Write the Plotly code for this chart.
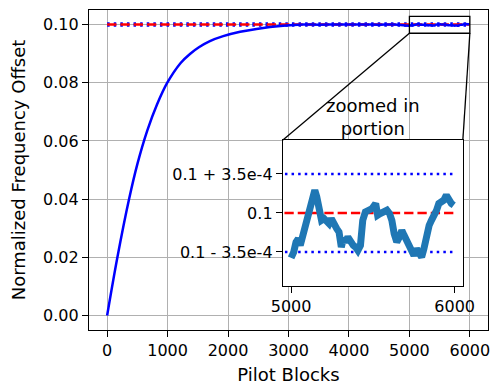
import plotly.graph_objects as go

# ---- data ----
conv_blocks = [0, 170, 363, 500, 665, 825, 995, 1216, 1370, 1518, 1700, 1920, 2200,
               2470, 2910, 3240, 3500, 3750, 4000, 4250, 4500, 4750]
conv_values = [0.0, 0.020, 0.040, 0.0520, 0.0636, 0.0725, 0.0800, 0.0868, 0.0899,
               0.0922, 0.0943, 0.0960, 0.0975, 0.0985, 0.0996, 0.1000, 0.09996,
               0.10002, 0.09998, 0.10003, 0.09997, 0.10001]

# zoomed portion: blocks and offset from 0.1 in units of 1e-4
zoom_blocks = [5000, 5016, 5030, 5044, 5056, 5070, 5085, 5101, 5117, 5131, 5145, 5157,
               5172, 5186, 5202, 5218, 5232, 5246, 5262, 5279, 5293, 5307, 5319, 5333,
               5347, 5363, 5380, 5394, 5408, 5424, 5438, 5454, 5475, 5495, 5517, 5529,
               5545, 5565, 5586, 5602, 5616, 5630, 5646, 5662, 5677, 5691, 5707, 5723,
               5737, 5751, 5767, 5784, 5798, 5812, 5828, 5844, 5858, 5872, 5889, 5903,
               5919, 5933, 5949, 5965, 5980, 5994]
zoom_offsets_e4 = [-4.03, -3.51, -2.61, -2.31, -2.91, -2.16, -1.11, -0.36, 0.24, 0.99,
                   2.04, 1.44, 0.09, -0.66, -0.51, -0.66, -0.96, -0.51, -1.11, -1.41,
                   -1.71, -3.06, -2.31, -2.61, -2.16, -2.61, -2.91, -3.06, -3.36, -2.91,
                   -0.66, 0.09, 0.24, 0.39, 0.84, -0.21, -0.06, 0.09, 0.24, -0.06, -0.66,
                   -1.86, -2.61, -2.16, -1.56, -2.01, -2.46, -2.91, -3.51, -3.81, -3.21,
                   -3.51, -3.96, -3.21, -2.01, -1.11, -0.66, -0.36, 0.24, 0.84, 0.99,
                   1.14, 1.59, 0.99, 0.84, 0.69]

target = 0.1
band = 3.5e-4
x_ticks = [0, 1000, 2000, 3000, 4000, 5000, 6000]
y_ticks = [0.0, 0.02, 0.04, 0.06, 0.08, 0.10]
inset_x_ticks = [5000, 6000]
inset_y_labels = ["0.1 - 3.5e-4", "0.1", "0.1 + 3.5e-4"]
zoom_box_y = [0.097, 0.1028]

zoom_values = [target + v * 1e-4 for v in zoom_offsets_e4]
all_blocks = conv_blocks + zoom_blocks
all_values = conv_values + zoom_values

FONT = "DejaVu Sans"
main_xr = [-300, 6300]
main_yr = [-0.005, 0.105]
ins_xd = [0.486, 0.937]
ins_yd = [0.1375, 0.594]
ins_xr = [4950, 6050]
ins_yr = [target - 6.55e-4, target + 6.55e-4]

fig = go.Figure()
line_x = [0, 6000]
for xa, ya in (("x", "y"), ("x2", "y2")):
    fig.add_trace(go.Scatter(x=line_x, y=[target + band] * 2, mode="lines", xaxis=xa, yaxis=ya,
                             line=dict(color="#0000ff", width=2.5, dash="2.5px,4.1px"), showlegend=False))
    fig.add_trace(go.Scatter(x=line_x, y=[target - band] * 2, mode="lines", xaxis=xa, yaxis=ya,
                             line=dict(color="#0000ff", width=2.5, dash="2.5px,4.1px"), showlegend=False))
    fig.add_trace(go.Scatter(x=line_x, y=[target] * 2, mode="lines", xaxis=xa, yaxis=ya,
                             line=dict(color="#ff0000", width=2.5, dash="9.3px,4px"), showlegend=False))

fig.add_trace(go.Scatter(x=all_blocks, y=all_values, mode="lines", xaxis="x", yaxis="y",
                         line=dict(color="#0000ff", width=2.5, shape="spline", smoothing=1.0),
                         showlegend=False))
fig.add_trace(go.Scatter(x=zoom_blocks, y=zoom_values, mode="lines", xaxis="x2", yaxis="y2",
                         line=dict(color="#1f77b4", width=7), showlegend=False))

axis_common = dict(showline=True, mirror=True, linecolor="black", linewidth=1.3,
                   ticks="outside", ticklen=6, tickwidth=1.3, tickcolor="black",
                   zeroline=False, automargin=False,
                   tickfont=dict(family=FONT, size=16, color="black"))

fig.update_layout(
    width=491, height=385,
    margin=dict(l=89, r=3, t=10, b=55),
    paper_bgcolor="white", plot_bgcolor="white",
    font=dict(family=FONT, color="black"),
    xaxis=dict(domain=[0, 1], range=main_xr, tickvals=x_ticks, showgrid=True,
               gridcolor="#b0b0b0", gridwidth=1.3,
               title=dict(text="Pilot Blocks", font=dict(family=FONT, size=18), standoff=10),
               **axis_common),
    yaxis=dict(domain=[0, 1], range=main_yr, tickvals=y_ticks, tickformat=".2f", showgrid=True,
               gridcolor="#b0b0b0", gridwidth=1.3,
               title=dict(text="Normalized Frequency Offset", font=dict(family=FONT, size=18), standoff=12),
               **axis_common),
    xaxis2=dict(domain=ins_xd, anchor="y2", range=ins_xr, tickvals=inset_x_ticks, showgrid=False,
                **axis_common),
    yaxis2=dict(domain=ins_yd, anchor="x2", range=ins_yr,
                tickvals=[target - band, target, target + band], ticktext=inset_y_labels,
                showgrid=False, **axis_common),
)

def data_to_paper_x(v):
    return (v - main_xr[0]) / (main_xr[1] - main_xr[0])

def data_to_paper_y(v):
    return (v - main_yr[0]) / (main_yr[1] - main_yr[0])

def paper_to_data_x(p):
    return main_xr[0] + p * (main_xr[1] - main_xr[0])

def paper_to_data_y(p):
    return main_yr[0] + p * (main_yr[1] - main_yr[0])

# white background of inset covering main gridlines
fig.add_shape(type="rect", xref="x", yref="y", layer="between",
              x0=paper_to_data_x(ins_xd[0]), x1=paper_to_data_x(ins_xd[1]),
              y0=paper_to_data_y(ins_yd[0]), y1=paper_to_data_y(ins_yd[1]),
              fillcolor="white", line=dict(width=0))
# zoom box in main axes
fig.add_shape(type="rect", xref="x", yref="y", layer="above",
              x0=inset_x_ticks[0], x1=inset_x_ticks[1], y0=zoom_box_y[0], y1=zoom_box_y[1],
              line=dict(color="black", width=1.3))
# connectors
fig.add_shape(type="line", xref="paper", yref="paper", layer="above",
              x0=data_to_paper_x(inset_x_ticks[0]), y0=data_to_paper_y(zoom_box_y[0]),
              x1=ins_xd[0], y1=ins_yd[1], line=dict(color="black", width=1.3))
fig.add_shape(type="line", xref="paper", yref="paper", layer="above",
              x0=data_to_paper_x(inset_x_ticks[1]), y0=data_to_paper_y(zoom_box_y[0]),
              x1=ins_xd[1], y1=ins_yd[1], line=dict(color="black", width=1.3))

fig.add_annotation(text="zoomed in<br>portion", xref="paper", yref="paper",
                   x=(ins_xd[0] + ins_xd[1]) / 2, y=ins_yd[1], xanchor="center", yanchor="bottom",
                   yshift=-1, showarrow=False, font=dict(family=FONT, size=18, color="black"))

fig.write_html("out.html", config={"displayModeBar": False},
               post_script="document.body.style.margin='0px';")
